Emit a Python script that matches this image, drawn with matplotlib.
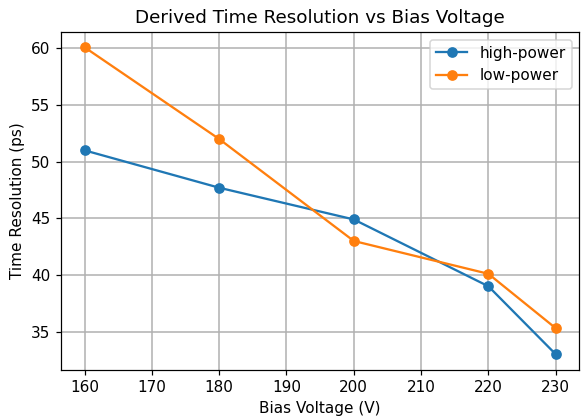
import matplotlib
matplotlib.use("Agg")
import matplotlib.pyplot as plt

bias_voltage = [160, 180, 200, 220, 230]
high_power = [51.0, 47.7, 44.9, 39.0, 33.0]
low_power = [60.1, 52.0, 43.0, 40.1, 35.3]

fig, ax = plt.subplots(figsize=(581 / 110, 420 / 110), dpi=110)
ax.plot(bias_voltage, high_power, marker='o', label='high-power')
ax.plot(bias_voltage, low_power, marker='o', label='low-power')
ax.set_title("Derived Time Resolution vs Bias Voltage", fontsize=12)
ax.set_xlabel("Bias Voltage (V)")
ax.set_ylabel("Time Resolution (ps)")
ax.grid(True, linewidth=1)
ax.legend(loc='upper right')
fig.subplots_adjust(left=0.105, right=0.997, top=0.924, bottom=0.12)
fig.savefig("out.png")
